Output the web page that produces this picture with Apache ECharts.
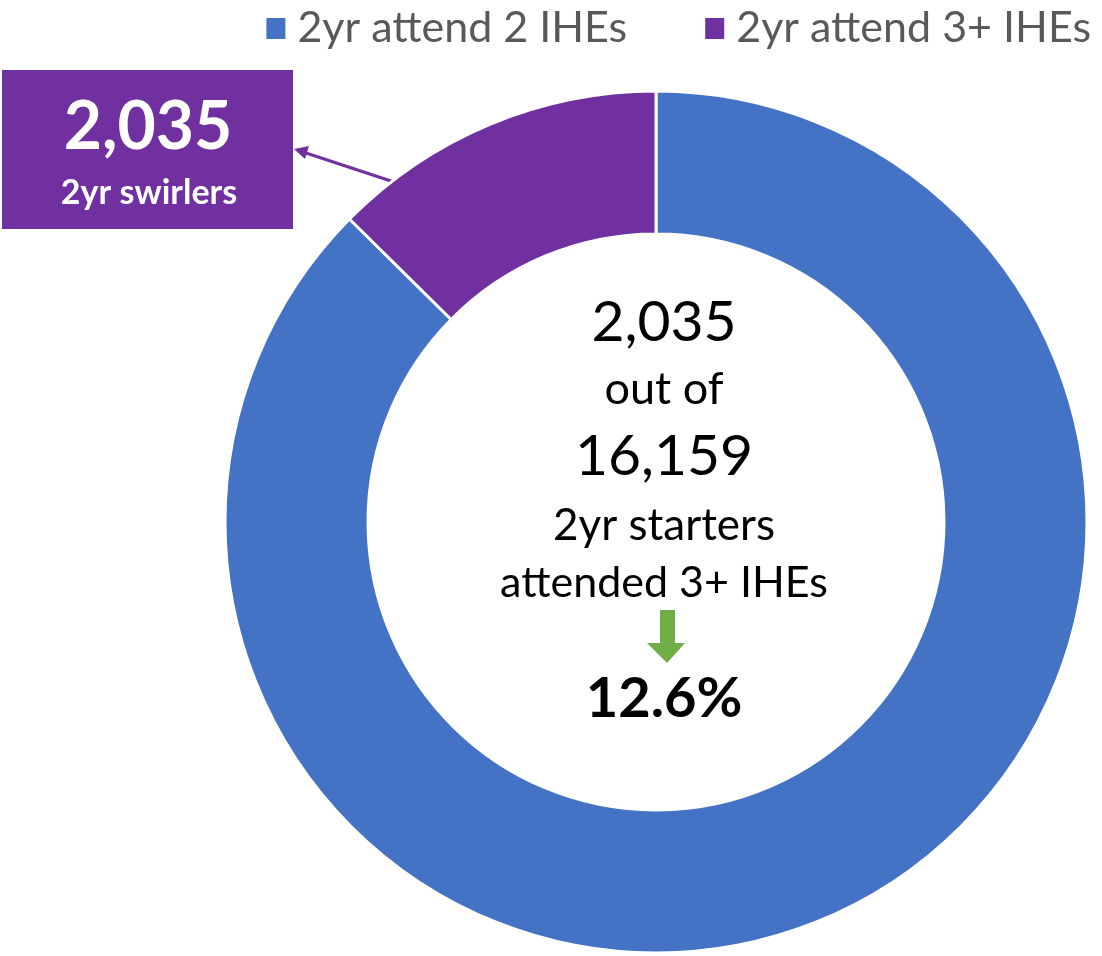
<!DOCTYPE html>
<html>
<head>
<meta charset="utf-8">
<script src="https://cdn.jsdelivr.net/npm/echarts@6/dist/echarts.min.js"></script>
<style>
  html, body { margin: 0; padding: 0; background: #fff; }
  #chart { width: 1102px; height: 956px; }
</style>
</head>
<body>
<div id="chart"></div>
<script>
// Two-year starters by number of institutions attended
const categories = ['2yr attend 2 IHEs', '2yr attend 3+ IHEs'];
const counts     = [14124, 2035];
const colors     = ['#4472C4', '#7030A0'];

const total    = counts.reduce((a, b) => a + b, 0);
const swirlers = counts[1];
const pct      = (swirlers / total * 100).toFixed(1) + '%';
const fmtInt   = n => n.toLocaleString('en-US');

const FONT = 'Lato, "Open Sans", sans-serif';

const centerLines = [
  { text: fmtInt(swirlers), y: 323, size: 57, weight: 'normal' },
  { text: 'out of', y: 389, size: 45, weight: 'normal' },
  { text: fmtInt(total), y: 457, size: 57, weight: 'normal' },
  { text: '2yr starters', y: 526, size: 44, weight: 'normal' },
  { text: 'attended 3+ IHEs', y: 583, size: 43, weight: 'normal' },
  { text: pct, y: 699, size: 56, weight: 'bold' },
];

const chart = echarts.init(document.getElementById('chart'));
chart.setOption({
  backgroundColor: '#fff',
  animation: false,
  color: colors,
  legend: {
    data: categories,
    top: 2,
    right: 6,
    icon: 'rect',
    itemWidth: 21,
    itemHeight: 23,
    itemGap: 76,
    textStyle: { fontFamily: FONT, fontSize: 43, color: '#595959', padding: [0, 0, 0, 6] },
  },
  series: [{
    type: 'pie',
    center: [656, 522],
    radius: [288, 431],
    startAngle: 90,
    clockwise: true,
    silent: true,
    label: { show: false },
    labelLine: { show: false },
    itemStyle: { borderColor: '#fff', borderWidth: 3 },
    data: categories.map((c, i) => ({ name: c, value: counts[i] })),
  }],
  graphic: [
    // callout box for the 3+ slice
    {
      type: 'rect',
      shape: { x: 2, y: 70, width: 291, height: 159 },
      style: { fill: colors[1] },
    },
    {
      type: 'text',
      x: 148, y: 128,
      style: { text: fmtInt(swirlers), fill: '#fff', font: 'bold 66px ' + FONT, align: 'center', verticalAlign: 'middle' },
    },
    {
      type: 'text',
      x: 149, y: 193,
      style: { text: '2yr swirlers', fill: '#fff', font: 'bold 34px ' + FONT, align: 'center', verticalAlign: 'middle' },
    },
    // pointer from slice to box
    {
      type: 'line',
      shape: { x1: 394, y1: 182, x2: 306, y2: 153 },
      style: { stroke: colors[1], lineWidth: 3 },
    },
    {
      type: 'polygon',
      shape: { points: [[294, 149], [309, 146], [305, 159]] },
      style: { fill: colors[1] },
    },
    // green down arrow
    {
      type: 'polygon',
      shape: { points: [[660, 610], [675, 610], [675, 643], [685, 643], [667, 663], [647, 643], [660, 643]] },
      style: { fill: '#70AD47' },
    },
    ...centerLines.map(l => ({
      type: 'text',
      x: 664, y: l.y,
      style: { text: l.text, fill: '#000', font: `${l.weight} ${l.size}px ${FONT}`, align: 'center', verticalAlign: 'middle' },
    })),
  ],
});
</script>
</body>
</html>
